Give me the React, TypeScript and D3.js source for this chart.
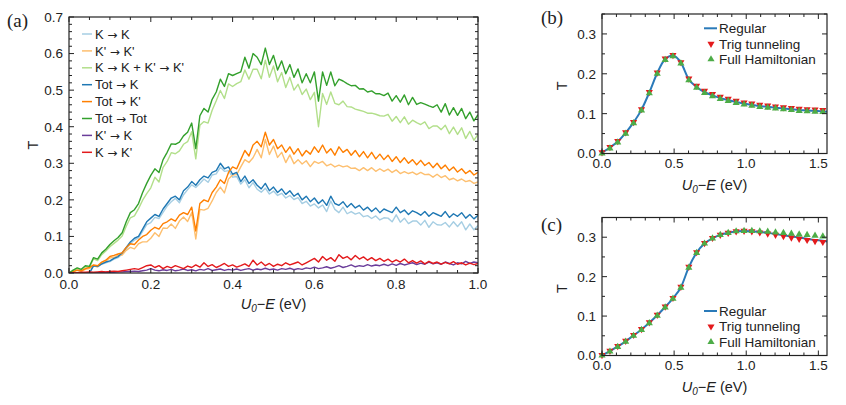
import React from 'react';
import * as d3 from 'd3';

// ---------- Panel (a) data (x = 0.00 .. 1.00 step 0.01) ----------
const xA: number[] = d3.range(101).map((i) => +(i / 100).toFixed(2));

const kk = [0,0,0,0,0,0,0.019,0.017,0.024,0.028,
  0.031,0.038,0.042,0.052,0.066,0.081,0.09,0.096,0.114,0.132,
  0.138,0.152,0.149,0.166,0.183,0.195,0.204,0.192,0.214,0.228,
  0.241,0.234,0.245,0.257,0.248,0.268,0.271,0.289,0.278,0.28,
  0.262,0.264,0.243,0.255,0.233,0.247,0.229,0.221,0.232,0.216,
  0.224,0.212,0.218,0.205,0.212,0.201,0.206,0.19,0.196,0.183,
  0.189,0.178,0.186,0.168,0.197,0.174,0.165,0.18,0.162,0.168,
  0.161,0.165,0.154,0.157,0.149,0.156,0.145,0.151,0.15,0.14,
  0.159,0.139,0.15,0.135,0.142,0.142,0.131,0.144,0.125,0.14,
  0.132,0.131,0.138,0.126,0.14,0.127,0.14,0.118,0.134,0.118,0.13];

const kpkp = [0,0.003,0.007,0.004,0.01,0.012,0.02,0.017,0.026,0.032,
  0.041,0.043,0.048,0.049,0.062,0.07,0.066,0.08,0.085,0.085,
  0.095,0.11,0.1,0.123,0.122,0.134,0.122,0.142,0.153,0.141,
  0.165,0.093,0.174,0.172,0.177,0.197,0.22,0.235,0.219,0.257,
  0.268,0.269,0.29,0.31,0.302,0.315,0.338,0.315,0.365,0.324,
  0.347,0.316,0.33,0.302,0.323,0.299,0.31,0.298,0.307,0.291,
  0.305,0.3,0.305,0.293,0.298,0.29,0.295,0.29,0.293,0.286,
  0.287,0.28,0.288,0.28,0.288,0.278,0.285,0.278,0.284,0.275,
  0.282,0.272,0.277,0.272,0.276,0.269,0.275,0.269,0.27,0.262,
  0.27,0.261,0.266,0.255,0.259,0.252,0.257,0.25,0.253,0.245,0.249];

const kkPlusKpkp = [0,0.006,0.012,0.008,0.017,0.015,0.039,0.034,0.05,0.06,
  0.072,0.081,0.09,0.101,0.128,0.151,0.156,0.176,0.199,0.217,
  0.233,0.262,0.249,0.289,0.305,0.329,0.326,0.334,0.352,0.359,
  0.386,0.312,0.404,0.414,0.41,0.445,0.471,0.499,0.477,0.517,
  0.51,0.518,0.523,0.555,0.53,0.557,0.557,0.531,0.582,0.535,
  0.566,0.523,0.548,0.507,0.535,0.5,0.516,0.488,0.503,0.474,
  0.494,0.4,0.491,0.461,0.495,0.464,0.46,0.47,0.455,0.454,
  0.448,0.445,0.442,0.437,0.437,0.434,0.43,0.429,0.434,0.415,
  0.428,0.411,0.427,0.407,0.418,0.411,0.406,0.413,0.395,0.402,
  0.402,0.392,0.404,0.381,0.399,0.379,0.397,0.368,0.387,0.363,0.379];

const totK = [0,0,0,0,0,0,0.02,0.018,0.025,0.03,
  0.033,0.04,0.045,0.055,0.07,0.085,0.095,0.1,0.12,0.14,
  0.15,0.16,0.155,0.175,0.19,0.205,0.21,0.2,0.225,0.235,
  0.25,0.24,0.255,0.265,0.26,0.275,0.28,0.3,0.285,0.29,
  0.27,0.275,0.25,0.265,0.245,0.255,0.24,0.23,0.245,0.225,
  0.235,0.22,0.23,0.215,0.225,0.21,0.218,0.2,0.21,0.195,
  0.205,0.19,0.2,0.185,0.21,0.19,0.185,0.195,0.18,0.19,
  0.178,0.185,0.172,0.18,0.168,0.178,0.165,0.175,0.17,0.165,
  0.18,0.165,0.172,0.16,0.17,0.165,0.158,0.168,0.155,0.165,
  0.16,0.155,0.168,0.152,0.162,0.155,0.165,0.15,0.16,0.148,0.158];

const totKp = [0,0.004,0.008,0.006,0.012,0.015,0.022,0.02,0.03,0.035,
  0.045,0.048,0.052,0.055,0.07,0.08,0.078,0.09,0.1,0.105,
  0.117,0.125,0.12,0.135,0.14,0.148,0.142,0.158,0.165,0.16,
  0.18,0.115,0.19,0.2,0.195,0.22,0.235,0.255,0.245,0.275,
  0.29,0.285,0.31,0.335,0.32,0.35,0.36,0.345,0.385,0.35,
  0.365,0.34,0.35,0.33,0.345,0.325,0.34,0.32,0.335,0.325,
  0.345,0.33,0.35,0.328,0.34,0.322,0.345,0.33,0.338,0.322,
  0.335,0.318,0.332,0.315,0.33,0.312,0.325,0.31,0.322,0.305,
  0.318,0.302,0.315,0.3,0.31,0.296,0.308,0.294,0.302,0.288,
  0.3,0.285,0.295,0.28,0.29,0.276,0.285,0.272,0.28,0.268,0.275];

const totTot = [0,0.008,0.014,0.01,0.02,0.018,0.042,0.038,0.055,0.065,
  0.078,0.088,0.097,0.11,0.14,0.165,0.173,0.19,0.22,0.245,
  0.267,0.285,0.275,0.31,0.33,0.353,0.352,0.358,0.375,0.385,
  0.41,0.34,0.43,0.45,0.44,0.475,0.495,0.53,0.51,0.545,
  0.54,0.545,0.55,0.59,0.56,0.6,0.59,0.57,0.615,0.57,
  0.595,0.555,0.58,0.545,0.57,0.535,0.558,0.52,0.545,0.52,
  0.55,0.47,0.55,0.513,0.55,0.512,0.53,0.525,0.518,0.512,
  0.513,0.503,0.504,0.495,0.498,0.49,0.49,0.485,0.492,0.47,
  0.485,0.467,0.487,0.46,0.48,0.461,0.466,0.462,0.457,0.453,
  0.46,0.44,0.463,0.432,0.452,0.431,0.45,0.422,0.44,0.416,0.433];

const kpk = [0,0,0,0,0,0,0.001,0.001,0.001,0.002,
  0.002,0.002,0.003,0.003,0.004,0.004,0.005,0.004,0.006,0.008,
  0.012,0.008,0.006,0.009,0.007,0.01,0.006,0.008,0.011,0.007,
  0.009,0.006,0.01,0.008,0.012,0.007,0.009,0.011,0.007,0.01,
  0.008,0.011,0.007,0.01,0.012,0.008,0.011,0.009,0.013,0.009,
  0.011,0.008,0.012,0.01,0.013,0.009,0.012,0.01,0.014,0.012,
  0.016,0.012,0.014,0.017,0.013,0.016,0.02,0.015,0.018,0.022,
  0.017,0.02,0.018,0.023,0.019,0.022,0.02,0.024,0.02,0.025,
  0.021,0.026,0.022,0.025,0.028,0.023,0.027,0.024,0.03,0.025,
  0.028,0.024,0.03,0.026,0.022,0.028,0.025,0.032,0.026,0.03,0.028];

const kkp = [0,0.001,0.001,0.002,0.002,0.003,0.002,0.003,0.004,0.003,
  0.004,0.005,0.004,0.006,0.008,0.01,0.012,0.01,0.015,0.02,
  0.022,0.015,0.02,0.012,0.018,0.014,0.02,0.016,0.012,0.019,
  0.015,0.022,0.016,0.028,0.018,0.023,0.015,0.02,0.026,0.018,
  0.022,0.016,0.02,0.025,0.018,0.035,0.022,0.03,0.02,0.026,
  0.018,0.024,0.02,0.028,0.022,0.026,0.03,0.022,0.028,0.034,
  0.04,0.03,0.045,0.035,0.042,0.032,0.05,0.04,0.045,0.036,
  0.048,0.038,0.044,0.035,0.042,0.034,0.04,0.032,0.038,0.03,
  0.036,0.03,0.038,0.028,0.034,0.027,0.033,0.025,0.032,0.026,
  0.03,0.024,0.029,0.025,0.031,0.024,0.028,0.022,0.027,0.023,0.026];

const seriesLabels = ['K → K', "K' → K'", "K → K + K' → K'", 'Tot → K', "Tot → K'", 'Tot → Tot', "K' → K", "K → K'"];
const seriesColors = ['#a6cee3', '#fdbf6f', '#b2df8a', '#1f78b4', '#ff7f00', '#33a02c', '#6a3d9a', '#e31a1c'];
const seriesValues = [kk, kpkp, kkPlusKpkp, totK, totKp, totTot, kpk, kkp];

const aXTicks = [0, 0.2, 0.4, 0.6, 0.8, 1.0];
const aYTicks = [0, 0.1, 0.2, 0.3, 0.4, 0.5, 0.6, 0.7];

// ---------- Panels (b), (c) data ----------
const mX = [0, 0.055, 0.109, 0.164, 0.219, 0.274, 0.328, 0.383, 0.438, 0.492, 0.547, 0.602, 0.656, 0.711, 0.766,
  0.82, 0.875, 0.93, 0.985, 1.039, 1.094, 1.149, 1.203, 1.258, 1.313, 1.367, 1.422, 1.477, 1.531];
const lineEndX = 1.56;

const bRegular = [0.002,0.015,0.03,0.052,0.078,0.11,0.153,0.202,0.237,0.246,0.228,0.186,0.167,0.154,0.146,
  0.139,0.134,0.129,0.125,0.122,0.119,0.117,0.115,0.113,0.111,0.109,0.108,0.107,0.106];
const bRegularEnd = 0.105;
const bTrig = [0.003,0.016,0.031,0.053,0.079,0.111,0.154,0.203,0.238,0.247,0.229,0.188,0.17,0.157,0.149,
  0.142,0.137,0.132,0.128,0.125,0.122,0.12,0.118,0.116,0.114,0.112,0.111,0.11,0.109];
const bFull = [0.0,0.013,0.028,0.05,0.076,0.108,0.151,0.2,0.235,0.244,0.226,0.184,0.165,0.152,0.144,
  0.137,0.132,0.127,0.123,0.12,0.117,0.115,0.113,0.111,0.109,0.107,0.106,0.105,0.104];

const cRegular = [0.0,0.011,0.023,0.036,0.051,0.066,0.083,0.102,0.123,0.145,0.173,0.224,0.261,0.284,0.297,
  0.306,0.311,0.315,0.316,0.315,0.313,0.311,0.308,0.305,0.302,0.299,0.296,0.293,0.291];
const cRegularEnd = 0.289;
const cTrig = [0.001,0.012,0.024,0.037,0.052,0.067,0.084,0.103,0.124,0.146,0.174,0.225,0.262,0.285,0.298,
  0.306,0.311,0.315,0.316,0.315,0.312,0.309,0.306,0.303,0.299,0.296,0.293,0.29,0.288];
const cFull = [0.0,0.01,0.022,0.035,0.05,0.065,0.082,0.101,0.122,0.144,0.172,0.223,0.26,0.284,0.297,
  0.306,0.311,0.315,0.316,0.316,0.315,0.314,0.312,0.311,0.309,0.307,0.306,0.304,0.302];

const smallXTicks = [0, 0.5, 1.0, 1.5];
const smallYTicks = [0, 0.1, 0.2, 0.3];
const smallLegend = ['Regular', 'Trig tunneling', 'Full Hamiltonian'];

const FONT = "'Liberation Sans', Arial, Helvetica, sans-serif";
const ARROWFONT = "'DejaVu Sans', sans-serif";
const SERIF = "'Liberation Serif', 'DejaVu Serif', serif";
const BLUE = '#2a7ab9';
const RED = '#e41a1c';
const GREEN = '#4dac47';

type Lin = d3.ScaleLinear<number, number>;

function Frame(props: {
  xs: Lin; ys: Lin; xMajor: number[]; yMajor: number[]; xMinorStep: number; yMinorStep: number;
  xLabelDy: number;
}) {
  const { xs, ys, xMajor, yMajor, xMinorStep, yMinorStep, xLabelDy } = props;
  const [x0, x1] = xs.range();
  const [yb, yt] = ys.range();
  const [dx0, dx1] = xs.domain();
  const [dy0, dy1] = ys.domain();
  const xMinor = d3.range(dx0, dx1 + 1e-9, xMinorStep);
  const yMinor = d3.range(dy0, dy1 + 1e-9, yMinorStep);
  const maj = 5, mnr = 3;
  const f = d3.format('.1f');
  const segs: JSX.Element[] = [];
  xMinor.forEach((v, i) => {
    const isMaj = xMajor.some((m) => Math.abs(m - v) < 1e-6);
    const L = isMaj ? maj : mnr;
    const x = xs(v);
    segs.push(<line key={'xb' + i} x1={x} x2={x} y1={yb} y2={yb - L} />);
    segs.push(<line key={'xt' + i} x1={x} x2={x} y1={yt} y2={yt + L} />);
  });
  yMinor.forEach((v, i) => {
    const isMaj = yMajor.some((m) => Math.abs(m - v) < 1e-6);
    const L = isMaj ? maj : mnr;
    const y = ys(v);
    segs.push(<line key={'yl' + i} x1={x0} x2={x0 + L} y1={y} y2={y} />);
    segs.push(<line key={'yr' + i} x1={x1} x2={x1 - L} y1={y} y2={y} />);
  });
  return (
    <g>
      <g stroke="#222" strokeWidth={1}>{segs}</g>
      <rect x={x0} y={yt} width={x1 - x0} height={yb - yt} fill="none" stroke="#222" strokeWidth={1.2} />
      <g fontFamily={FONT} fontSize={13.5} fill="#222">
        {xMajor.map((v) => (
          <text key={'xl' + v} x={xs(v)} y={yb + xLabelDy} textAnchor="middle">{f(v)}</text>
        ))}
        {yMajor.map((v) => (
          <text key={'yl' + v} x={x0 - 6} y={ys(v)} dy="0.36em" textAnchor="end">{f(v)}</text>
        ))}
      </g>
    </g>
  );
}

function XTitle({ x, y }: { x: number; y: number }) {
  return (
    <text x={x} y={y} textAnchor="middle" fontFamily={FONT} fontSize={14.5} fill="#222">
      <tspan fontStyle="italic">U</tspan>
      <tspan fontStyle="italic" fontSize={10} dy={3}>0</tspan>
      <tspan dy={-3}>−</tspan>
      <tspan fontStyle="italic">E</tspan>
      <tspan> (eV)</tspan>
    </text>
  );
}

function YTitle({ x, y }: { x: number; y: number }) {
  return (
    <text transform={`translate(${x},${y}) rotate(-90)`} textAnchor="middle" fontFamily={FONT} fontSize={14.5} fill="#222">T</text>
  );
}

function ArrowLabel({ s }: { s: string }) {
  const parts = s.split('→');
  const out: JSX.Element[] = [];
  parts.forEach((p, i) => {
    out.push(<tspan key={'p' + i}>{p}</tspan>);
    if (i < parts.length - 1) out.push(<tspan key={'a' + i} fontFamily={ARROWFONT} fontSize={12}>→</tspan>);
  });
  return <>{out}</>;
}

const triUp = d3.symbol(d3.symbolTriangle, 22)() as string;

function SmallPanel(props: { top: number; bottom: number; reg: number[]; regEnd: number; trig: number[]; full: number[]; legendY: number[]; label: string; labelY: number }) {
  const { top, bottom, reg, regEnd, trig, full, legendY, label, labelY } = props;
  const xs = d3.scaleLinear().domain([0, 1.56]).range([602, 827]);
  const ys = d3.scaleLinear().domain([0, 0.35]).range([bottom, top]);
  const lineData: [number, number][] = mX.map((x, i) => [x, reg[i]] as [number, number]).concat([[lineEndX, regEnd]]);
  const line = d3.line<[number, number]>().x((d) => xs(d[0])).y((d) => ys(d[1])).curve(d3.curveMonotoneX);
  return (
    <g>
      <path d={line(lineData) as string} fill="none" stroke={BLUE} strokeWidth={2} />
      {mX.map((x, i) => (
        <path key={'r' + i} d={triUp} fill={RED} transform={`translate(${xs(x)},${ys(trig[i])}) rotate(180)`} />
      ))}
      {mX.map((x, i) => (
        <path key={'g' + i} d={triUp} fill={GREEN} transform={`translate(${xs(x)},${ys(full[i])})`} />
      ))}
      <Frame xs={xs} ys={ys} xMajor={smallXTicks} yMajor={smallYTicks} xMinorStep={0.1} yMinorStep={0.05} xLabelDy={14.5} />
      <XTitle x={714.5} y={bottom + 36} />
      <YTitle x={567} y={(top + bottom) / 2 + 2} />
      <text x={541} y={labelY} fontFamily={SERIF} fontSize={19} fill="#222">{label}</text>
      <g fontFamily={FONT} fontSize={13.5} fill="#222">
        <line x1={704} x2={717} y1={legendY[0]} y2={legendY[0]} stroke={BLUE} strokeWidth={2} />
        <path d={triUp} fill={RED} transform={`translate(711,${legendY[1]}) rotate(180)`} />
        <path d={triUp} fill={GREEN} transform={`translate(711,${legendY[2]})`} />
        {smallLegend.map((s, i) => (
          <text key={s} x={719} y={legendY[i]} dy="0.36em">{s}</text>
        ))}
      </g>
    </g>
  );
}

export default function App() {
  const xs = d3.scaleLinear().domain([0, 1]).range([69, 478]);
  const ys = d3.scaleLinear().domain([0, 0.7]).range([273, 17]);
  const line = d3.line<number>().x((_, i) => xs(xA[i])).y((d) => ys(d));
  return (
    <svg width={846} height={405} style={{ position: 'absolute', left: 0, top: 0, background: '#fff' }}>
      <defs>
        <clipPath id="clipA"><rect x={69} y={17} width={409} height={256} /></clipPath>
      </defs>
      <g clipPath="url(#clipA)">
        {seriesValues.map((vals, k) => (
          <path key={k} d={line(vals) as string} fill="none" stroke={seriesColors[k]} strokeWidth={1.4} strokeLinejoin="round" />
        ))}
      </g>
      <Frame xs={xs} ys={ys} xMajor={aXTicks} yMajor={aYTicks} xMinorStep={0.05} yMinorStep={0.02} xLabelDy={15.5} />
      <XTitle x={273.5} y={309} />
      <YTitle x={38} y={145} />
      <text x={7} y={27} fontFamily={SERIF} fontSize={19} fill="#222">(a)</text>
      <g fontFamily={FONT} fontSize={13} fill="#222">
        {seriesLabels.map((s, i) => {
          const y = 34 + 16.9 * i;
          return (
            <g key={s}>
              <line x1={82} x2={92} y1={y} y2={y} stroke={seriesColors[i]} strokeWidth={1.5} />
              <text x={95} y={y} dy="0.36em"><ArrowLabel s={s} /></text>
            </g>
          );
        })}
      </g>
      <SmallPanel top={14} bottom={153.5} reg={bRegular} regEnd={bRegularEnd} trig={bTrig} full={bFull}
        legendY={[28.3, 43.8, 59.3]} label="(b)" labelY={24} />
      <SmallPanel top={217.5} bottom={355.5} reg={cRegular} regEnd={cRegularEnd} trig={cTrig} full={cFull}
        legendY={[311, 326.5, 342]} label="(c)" labelY={231} />
    </svg>
  );
}
